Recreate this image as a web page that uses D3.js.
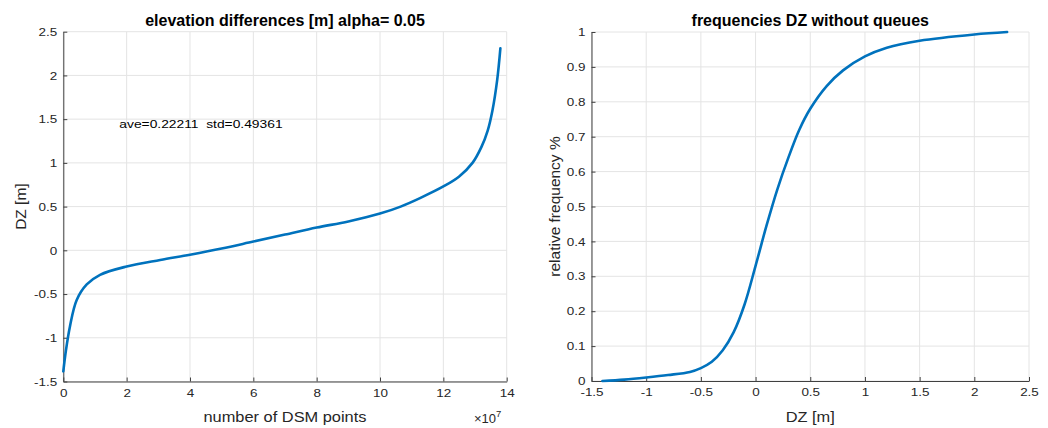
<!DOCTYPE html>
<html>
<head>
<meta charset="utf-8">
<script src="https://cdn.jsdelivr.net/npm/d3@7"></script>
<style>
  html, body { margin: 0; padding: 0; background: #ffffff; }
  svg { display: block; font-family: "Liberation Sans", Arial, sans-serif; }
</style>
</head>
<body>
<svg id="chart" width="1048" height="428"></svg>
<script>
// ---------- data ----------
// Left panel: sorted elevation differences vs. point index (x in units of 1e7)
const sortedIndex = [0, 0.085, 0.21, 0.42, 0.74, 1.16, 2.0, 3.06, 4, 5, 6, 7, 8, 9, 10, 10.65, 11.28, 12.0, 12.5, 12.92, 13.2, 13.4, 13.55, 13.7, 13.8];
const sortedDZ    = [-1.385, -1.14, -0.87, -0.57, -0.39, -0.28, -0.185, -0.11, -0.05, 0.02, 0.10, 0.18, 0.26, 0.33, 0.42, 0.50, 0.60, 0.73, 0.845, 1.00, 1.18, 1.37, 1.60, 1.95, 2.31];
// Right panel: cumulative relative frequency vs DZ
const cdfDZ   = [-1.4, -1.2, -1.0, -0.8, -0.6, -0.5, -0.4, -0.3, -0.2, -0.1, 0, 0.1, 0.2, 0.3, 0.4, 0.5, 0.65, 0.8, 1.0, 1.2, 1.5, 2.0, 2.3];
const cdfFreq = [0, 0.004, 0.01, 0.017, 0.026, 0.037, 0.055, 0.088, 0.14, 0.22, 0.33, 0.445, 0.55, 0.64, 0.72, 0.78, 0.845, 0.89, 0.93, 0.955, 0.975, 0.993, 1.0];

const leftXTicks  = [0, 2, 4, 6, 8, 10, 12, 14];
const leftYTicks  = [-1.5, -1, -0.5, 0, 0.5, 1, 1.5, 2, 2.5];
const rightXTicks = [-1.5, -1, -0.5, 0, 0.5, 1, 1.5, 2, 2.5];
const rightYTicks = [0, 0.1, 0.2, 0.3, 0.4, 0.5, 0.6, 0.7, 0.8, 0.9, 1];

const leftTitle  = "elevation differences [m] alpha= 0.05";
const rightTitle = "frequencies DZ without queues";
const leftXLabel = "number of DSM points";
const leftYLabel = "DZ [m]";
const rightXLabel = "DZ [m]";
const rightYLabel = "relative frequency %";
const annotation = "ave=0.22211  std=0.49361";
const annotPos = [1.77, 1.45];

// ---------- styling ----------
const LINE = "#0072BD", AXIS = "#404040", TEXT = "#262626", GRID = "#e4e4e4";
const STRETCH = 1.17;

const svg = d3.select("#chart");

function stretch(sel, k) {
  sel.each(function () {
    const L = this.getComputedTextLength();
    this.setAttribute("textLength", L * k);
    this.setAttribute("lengthAdjust", "spacingAndGlyphs");
  });
}

function panel(opts) {
  const { x, y, xTicks, yTicks, xFmt, yFmt, xs, ys, title, xLabel, yLabel, yLabelX } = opts;
  const g = svg.append("g");
  const [x0, x1] = x.range();
  const [y0, y1] = y.range(); // y0 bottom, y1 top

  // grid
  g.append("g").selectAll("line").data(xTicks).join("line")
    .attr("x1", d => x(d)).attr("x2", d => x(d)).attr("y1", y0).attr("y2", y1)
    .attr("stroke", GRID).attr("stroke-width", 1);
  g.append("g").selectAll("line").data(yTicks).join("line")
    .attr("y1", d => y(d)).attr("y2", d => y(d)).attr("x1", x0).attr("x2", x1)
    .attr("stroke", GRID).attr("stroke-width", 1);

  // axes
  const xa = g.append("g").attr("transform", `translate(0,${y0})`)
    .call(d3.axisBottom(x).tickValues(xTicks).tickFormat(xFmt).tickSizeInner(-4).tickSizeOuter(0).tickPadding(10));
  const ya = g.append("g").attr("transform", `translate(${x0},0)`)
    .call(d3.axisLeft(y).tickValues(yTicks).tickFormat(yFmt).tickSizeInner(-4).tickSizeOuter(0).tickPadding(6));
  [xa, ya].forEach(a => {
    a.select(".domain").attr("stroke", AXIS).attr("stroke-width", 1);
    a.selectAll(".tick line").attr("stroke", AXIS);
    a.selectAll(".tick text").attr("fill", TEXT).style("font-size", "11.5px")
      .style("font-family", '"Liberation Sans", Arial, sans-serif');
  });
  xa.selectAll(".tick text").attr("dy", null).attr("y", 15);
  stretch(xa.selectAll(".tick text"), STRETCH);
  stretch(ya.selectAll(".tick text"), STRETCH);

  // line
  const data = xs.map((v, i) => [v, ys[i]]);
  g.append("path").datum(data)
    .attr("fill", "none").attr("stroke", LINE).attr("stroke-width", 2.6)
    .attr("stroke-linecap", "round").attr("stroke-linejoin", "round")
    .attr("d", d3.line().x(d => x(d[0])).y(d => y(d[1])).curve(d3.curveCatmullRom.alpha(0.5)));

  const cx = (x0 + x1) / 2;
  g.append("text").attr("x", cx).attr("y", 26).attr("text-anchor", "middle")
    .attr("fill", "#000").style("font-size", "16px").style("font-weight", "bold").text(title);
  const xl = g.append("text").attr("x", cx).attr("y", 422).attr("text-anchor", "middle")
    .attr("fill", TEXT).style("font-size", "14px").text(xLabel);
  stretch(xl, STRETCH);
  const cy = (y0 + y1) / 2;
  g.append("text").attr("transform", `translate(${yLabelX},${cy}) rotate(-90)`)
    .attr("text-anchor", "middle").attr("fill", TEXT).style("font-size", "15.5px").text(yLabel);
  return g;
}

// ---------- left panel ----------
const xL = d3.scaleLinear().domain([0, 14]).range([63.3, 506.7]);
const yL = d3.scaleLinear().domain([-1.5, 2.5]).range([381.5, 31.7]);
const gL = panel({
  x: xL, y: yL, xTicks: leftXTicks, yTicks: leftYTicks,
  xFmt: d3.format("d"), yFmt: d => String(d),
  xs: sortedIndex, ys: sortedDZ, title: leftTitle, xLabel: leftXLabel, yLabel: leftYLabel, yLabelX: 26
});
const ann = gL.append("text").attr("x", xL(annotPos[0])).attr("y", yL(annotPos[1]))
  .attr("dy", "0.35em").attr("fill", "#000").style("font-size", "11.8px")
  .style("white-space", "pre").attr("xml:space", "preserve").text(annotation);
stretch(ann, STRETCH);
const expo = gL.append("text").attr("x", 474).attr("y", 423).attr("fill", TEXT).style("font-size", "13px");
expo.append("tspan").text("\u00d710");
expo.append("tspan").attr("dy", -6).style("font-size", "9.5px").text("7");

// ---------- right panel ----------
const xR = d3.scaleLinear().domain([-1.5, 2.5]).range([591.5, 1029]);
const yR = d3.scaleLinear().domain([0, 1]).range([381, 32]);
panel({
  x: xR, y: yR, xTicks: rightXTicks, yTicks: rightYTicks,
  xFmt: d => String(d), yFmt: d => String(d),
  xs: cdfDZ, ys: cdfFreq, title: rightTitle, xLabel: rightXLabel, yLabel: rightYLabel, yLabelX: 560
});
</script>
</body>
</html>
